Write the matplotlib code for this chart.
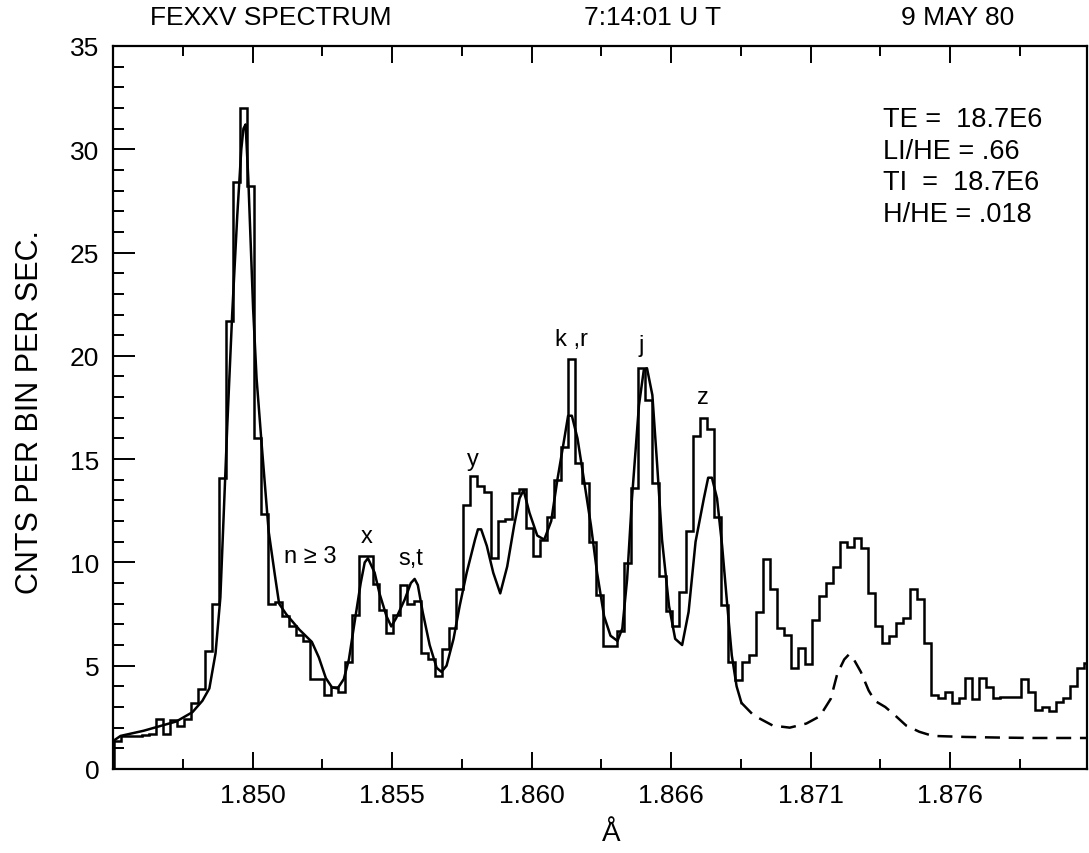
import numpy as np
import matplotlib
matplotlib.use('Agg')
import matplotlib.pyplot as plt
from matplotlib.ticker import FixedLocator, MultipleLocator

plt.rcParams['font.family'] = ['Liberation Sans', 'DejaVu Sans']

# histogram of observed counts (bins of equal width)
bin_start = 1.84485
bin_width = 0.00026
counts = [
    1.35, 1.6, 1.6, 1.6, 1.65, 1.7, 2.4, 1.7, 2.35, 2.1,
    2.4, 3.2, 3.85, 5.7, 8.0, 14.1, 21.7, 28.4, 32.0, 28.2,
    16.0, 12.35, 8.0, 8.1, 7.4, 6.9, 6.5, 6.2, 4.35, 4.35,
    3.6, 3.95, 3.75, 5.2, 7.45, 10.3, 10.3, 8.95, 7.7, 6.6,
    7.45, 8.9, 8.0, 8.15, 5.6, 5.3, 4.5, 5.8, 6.8, 8.7,
    12.8, 14.2, 13.7, 13.4, 10.2, 12.0, 12.1, 13.35, 13.55, 11.65,
    10.3, 11.1, 12.2, 14.0, 15.6, 19.85, 14.8, 13.85, 11.0, 8.4,
    5.95, 5.95, 6.7, 9.95, 13.6, 19.4, 17.85, 13.85, 9.35, 7.65,
    6.9, 8.55, 11.5, 16.1, 17.0, 16.45, 12.2, 7.95, 5.2, 4.3,
    5.2, 5.5, 7.6, 10.15, 8.7, 6.8, 6.5, 4.9, 5.85, 5.1,
    7.2, 8.35, 9.0, 9.8, 11.0, 10.75, 11.2, 10.7, 8.5, 6.9,
    6.1, 6.45, 7.05, 7.3, 8.7, 8.25, 6.1, 3.6, 3.45, 3.75,
    3.2, 3.45, 4.4, 3.4, 4.4, 3.95, 3.45, 3.5, 3.5, 3.5,
    4.35, 3.75, 2.85, 3.0, 2.8, 3.25, 3.45, 4.0, 4.9, 5.15,
]

# fitted model spectrum (solid part)
fit_wl = [
    1.84480, 1.84508, 1.84594, 1.84716, 1.84776, 1.84813, 1.84839, 1.84862,
    1.84880, 1.84893, 1.84906, 1.84924, 1.84943, 1.84958, 1.84966, 1.84974,
    1.84984, 1.85002, 1.85015, 1.85034, 1.85060, 1.85083, 1.85099, 1.85125,
    1.85174, 1.85221, 1.85247, 1.85273, 1.85296, 1.85317, 1.85340, 1.85359,
    1.85379, 1.85403, 1.85418, 1.85430, 1.85455, 1.85473, 1.85499, 1.85517,
    1.85535, 1.85567, 1.85590, 1.85604, 1.85616, 1.85634, 1.85660, 1.85686,
    1.85704, 1.85723, 1.85749, 1.85772, 1.85798, 1.85829, 1.85840, 1.85852,
    1.85873, 1.85897, 1.85923, 1.85949, 1.85975, 1.85995, 1.86010, 1.86032,
    1.86061, 1.86087, 1.86113, 1.86136, 1.86162, 1.86176, 1.86190, 1.86211,
    1.86235, 1.86261, 1.86284, 1.86310, 1.86334, 1.86360, 1.86378, 1.86396,
    1.86414, 1.86440, 1.86458, 1.86470, 1.86490, 1.86508, 1.86526, 1.86552,
    1.86575, 1.86601, 1.86625, 1.86651, 1.86682, 1.86698, 1.86712, 1.86731,
    1.86750, 1.86768, 1.86786, 1.86804, 1.86822,
]
fit_val = [
    1.35, 1.6, 1.85, 2.3, 2.75, 3.3, 3.9, 5.6,
    8.3, 12.5, 16.7, 22.0, 26.8, 30.0, 31.0, 31.2,
    28.6, 22.3, 18.9, 15.7, 11.5, 9.4, 8.0, 7.5,
    6.75, 6.15, 5.4, 4.4, 3.95, 3.9, 4.35, 5.3,
    7.0, 9.0, 10.0, 10.2, 9.5, 8.5, 7.4, 6.9,
    7.3, 8.2, 9.0, 9.2, 8.9, 7.6, 6.0, 4.9,
    4.7, 5.0, 6.3, 7.9, 9.5, 11.1, 11.6, 11.6,
    10.8, 9.5, 8.5, 9.8, 11.8, 13.1, 13.5, 12.4,
    11.3, 11.1, 12.0, 14.0, 16.0, 17.1, 17.1, 16.0,
    14.0, 11.8, 9.5, 7.4, 6.45, 6.2, 6.8, 9.2,
    13.1, 17.6, 19.3, 19.4, 18.1, 14.7, 11.1, 7.9,
    6.3, 6.0, 7.6, 11.0, 13.1, 14.1, 14.1, 13.1,
    10.8, 8.1, 5.5, 4.0, 3.2,
]

# model continuation (dashed)
dash_wl = [
    1.86822, 1.86867, 1.86939, 1.87002, 1.87064, 1.87114, 1.87155, 1.87179,
    1.87205, 1.87223, 1.87241, 1.87267, 1.87296, 1.87319, 1.87358, 1.87394,
    1.87436, 1.87485, 1.87535, 1.87657, 1.87782, 1.87907, 1.88112,
]
dash_val = [
    3.2, 2.6, 2.1, 2.0, 2.2, 2.55, 3.4, 4.6,
    5.3, 5.55, 5.3, 4.7, 3.8, 3.3, 3.0, 2.6,
    2.1, 1.8, 1.6, 1.55, 1.52, 1.5, 1.5,
]

major_ticks = [1.8500, 1.8552, 1.8604, 1.8656, 1.8708, 1.8760]
major_labels = ['1.850', '1.855', '1.860', '1.866', '1.871', '1.876']
minor_ticks = [1.8474, 1.8526, 1.8578, 1.8630, 1.8682, 1.8734, 1.8786]

line_labels = ['n \u2265 3', 'x', 's,t', 'y', 'k ,r', 'j', 'z']
line_label_x = [1.85214, 1.85426, 1.85590, 1.85823, 1.86190, 1.86448, 1.86679]
line_label_y = [10.3, 11.3, 10.2, 15.0, 20.8, 20.5, 18.0]

params = ['TE =  18.7E6', 'LI/HE = .66', 'TI  =  18.7E6', 'H/HE = .018']

fig = plt.figure(figsize=(10.89, 8.54), dpi=100)
ax = fig.add_axes([0.1038, 0.0984, 0.8944, 0.8466])

edges = bin_start + bin_width * np.arange(len(counts) + 1)
ax.stairs(counts, edges, color='black', lw=1.8)
ax.plot(fit_wl, fit_val, color='black', lw=1.8)
ax.plot(dash_wl, dash_val, color='black', lw=1.8, dashes=(6, 3.5))

ax.set_xlim(1.8448, 1.8811)
ax.set_ylim(0, 35)

ax.xaxis.set_major_locator(FixedLocator(major_ticks))
ax.xaxis.set_minor_locator(FixedLocator(minor_ticks))
ax.set_xticklabels(major_labels)
ax.yaxis.set_major_locator(MultipleLocator(5))
ax.yaxis.set_minor_locator(MultipleLocator(1))

ax.tick_params(axis='x', which='both', direction='in', top=True, bottom=True,
               width=1.4, labelsize=19, pad=10)
ax.tick_params(axis='x', which='major', length=12)
ax.tick_params(axis='x', which='minor', length=7)
ax.tick_params(axis='y', which='both', direction='in', left=True, right=False,
               width=1.4, labelsize=19, pad=10)
ax.tick_params(axis='y', which='major', length=16)
ax.tick_params(axis='y', which='minor', length=8)
for s in ax.spines.values():
    s.set_linewidth(1.6)

for lab, lx, ly in zip(line_labels, line_label_x, line_label_y):
    ax.text(lx, ly, lab, fontsize=17, ha='center', va='center')

for k, p in enumerate(params):
    ax.text(0.7906, 0.899 - 0.0437 * k, p, transform=ax.transAxes,
            fontsize=19.5, ha='left', va='center')

fig.text(0.138, 0.979, 'FEXXV SPECTRUM', fontsize=19, ha='left', va='center')
fig.text(0.536, 0.979, '7:14:01 U T', fontsize=19, ha='left', va='center')
fig.text(0.827, 0.979, '9 MAY 80', fontsize=19, ha='left', va='center')
fig.text(30 / 1089, 1 - 412 / 854, 'CNTS PER BIN PER SEC.', fontsize=22,
         rotation=90, ha='center', va='center')
fig.text(611 / 1089, 1 - 834 / 854, '\u00c5', fontsize=20, ha='center', va='center')

fig.savefig('out.png', dpi=100)
